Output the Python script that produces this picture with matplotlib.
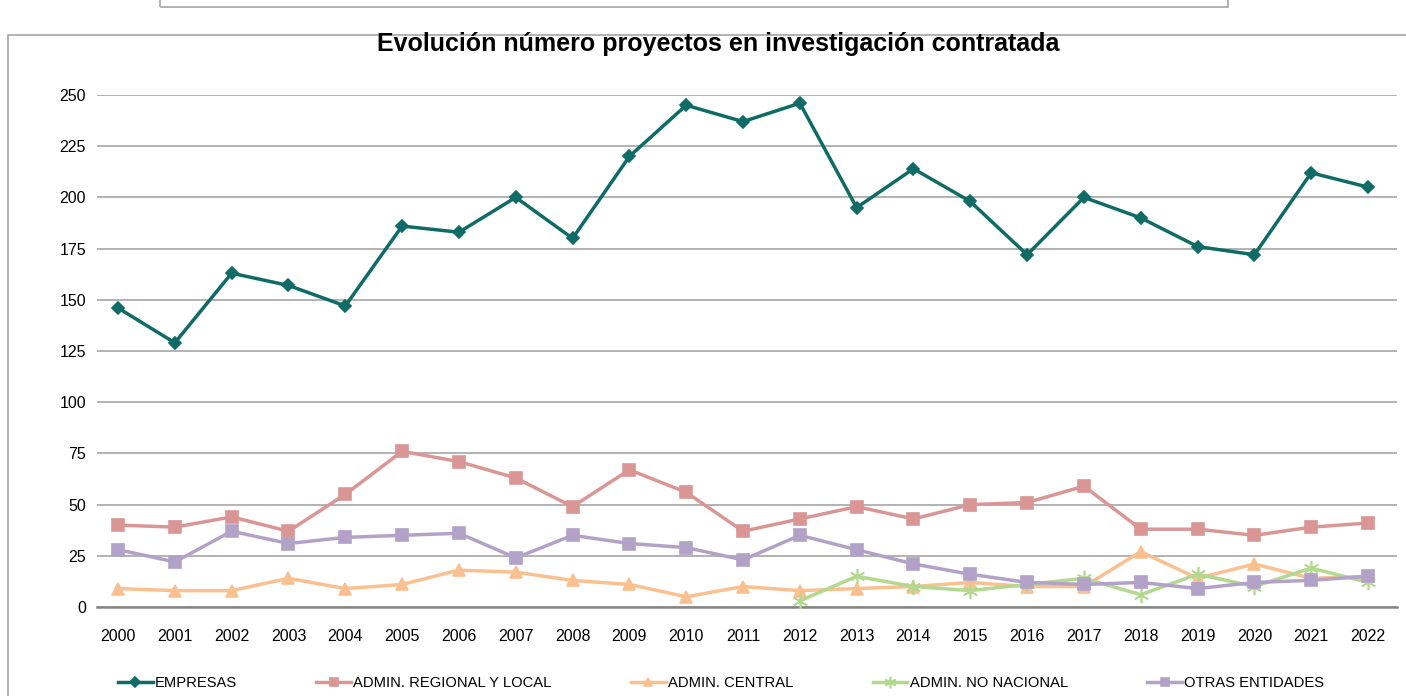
import matplotlib.pyplot as plt
import numpy as np
from matplotlib.patches import Rectangle

plt.rcParams['font.family'] = ['Liberation Sans', 'DejaVu Sans']

years = list(range(2000, 2023))
empresas = [146, 129, 163, 157, 147, 186, 183, 200, 180, 220, 245, 237, 246,
            195, 214, 198, 172, 200, 190, 176, 172, 212, 205]
regional = [40, 39, 44, 37, 55, 76, 71, 63, 49, 67, 56, 37, 43,
            49, 43, 50, 51, 59, 38, 38, 35, 39, 41]
central = [9, 8, 8, 14, 9, 11, 18, 17, 13, 11, 5, 10, 8,
           9, 10, 12, 10, 10, 27, 14, 21, 14, 15]
no_nacional = [np.nan] * 12 + [3, 15, 10, 8, 11, 14, 6, 16, 10, 19, 12]
otras = [28, 22, 37, 31, 34, 35, 36, 24, 35, 31, 29, 23, 35,
         28, 21, 16, 12, 11, 12, 9, 12, 13, 15]
y_ticks = [0, 25, 50, 75, 100, 125, 150, 175, 200, 225, 250]

W, H = 1406, 696
fig = plt.figure(figsize=(W / 100, H / 100), dpi=100)
ax = fig.add_axes([97 / W, 1 - 607 / H, (1397 - 97) / W, (607 - 95) / H])

# marcos del gráfico (Excel)
fig.patches.append(Rectangle((8 / W, -0.01), 1.1, 1 - 35 / H + 0.01, transform=fig.transFigure,
                             fill=False, edgecolor='#a6a6a6', linewidth=1.2))
fig.patches.append(Rectangle((160 / W, 1 - 7 / H), (1228 - 160) / W, 0.05, transform=fig.transFigure,
                             fill=False, edgecolor='#a6a6a6', linewidth=1.2))

series = [
    (empresas, 'EMPRESAS', '#0f6b66', 'D', 6.5),
    (regional, 'ADMIN. REGIONAL Y LOCAL', '#d99694', 's', 8),
    (central, 'ADMIN. CENTRAL', '#fac090', '^', 8.5),
    (no_nacional, 'ADMIN. NO NACIONAL', '#b3d88f', (6, 2, 0), 11),
    (otras, 'OTRAS ENTIDADES', '#b3a2c7', 's', 8),
]
handles = []
for vals, name, col, mk, ms in series:
    ln, = ax.plot(years, vals, color=col, marker=mk, markersize=ms, linewidth=2.5,
                  markeredgecolor=col, markeredgewidth=1.2, label=name, clip_on=False, zorder=3)
    handles.append(ln)

ax.set_xlim(2000 - 0.37, 2022 + 0.51)
ax.set_ylim(0, 250)
ax.set_yticks(y_ticks)
ax.set_xticks(years)
ax.tick_params(axis='both', length=0, labelsize=11.5)
ax.tick_params(axis='x', pad=16)
ax.tick_params(axis='y', pad=8)
ax.grid(axis='y', color='#a6a6a6', linewidth=1.2)
ax.set_axisbelow(True)
for s in ['top', 'right', 'left']:
    ax.spines[s].set_visible(False)
ax.spines['bottom'].set_color('#868686')
ax.spines['bottom'].set_linewidth(1.8)

fig.text(718 / W, 1 - 44 / H, 'Evolución número proyectos en investigación contratada',
         ha='center', va='center', fontsize=18, fontweight='bold')

fig.legend(handles=handles, loc='center left', bbox_to_anchor=(118 / W, 1 - 683 / H),
           ncol=5, frameon=False, fontsize=10.6, handlelength=2.35, handletextpad=0.15,
           columnspacing=5.4, markerscale=0.75, borderaxespad=0, borderpad=0)

plt.savefig('out.png', dpi=100)
